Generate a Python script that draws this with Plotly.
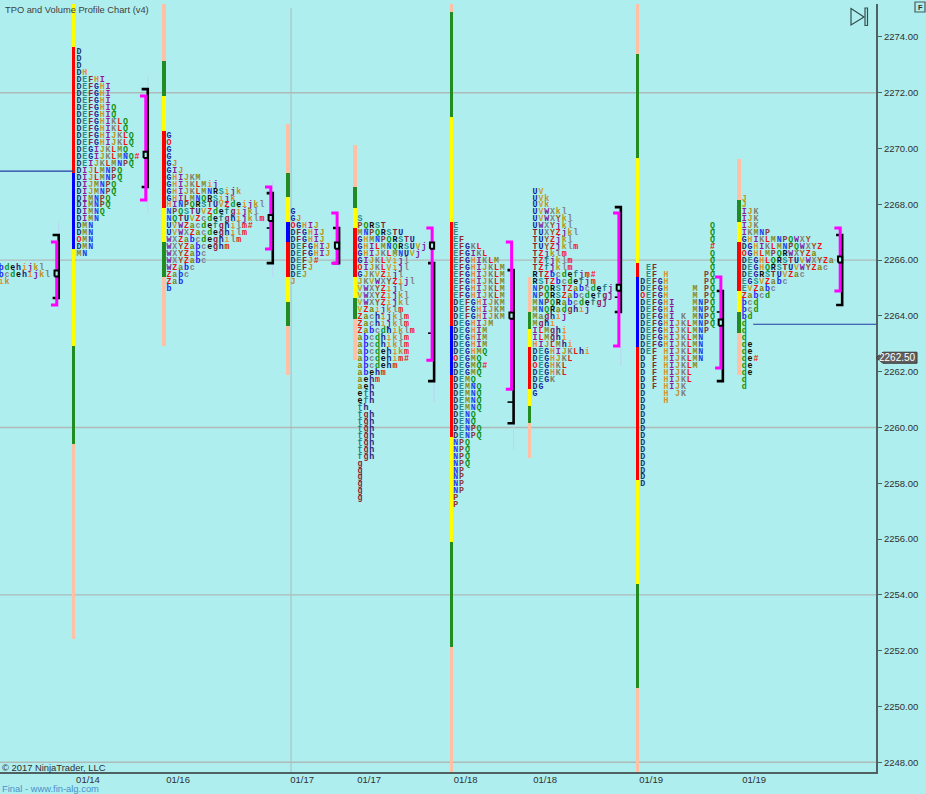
import plotly.graph_objects as go

# ---------- data ----------
TICK = 0.25
profile_names = ["01/13", "01/14", "01/16", "01/17a", "01/17b", "01/18a", "01/18b", "01/19a", "01/19b"]
profile_start_slot = [0.2, 13.62, 29.14, 50.5, 62.07, 78.57, 92.24, 110.8, 128.3]
profile_top_price = [2265.75, 2273.5, 2270.5, 2267.75, 2267.5, 2267.25, 2268.5, 2267.25, 2268.25]

rows_0 = ["bdehijkl", "bcdehijkl", "ik"]
rows_1 = ["D", "D", "D", "DH", "DEFHI", "DEFGHI", "DEFGHI", "DEFGHI", "DEFGHIQ", "DEFGHIQ",
          "DEFGHIKLQ", "DEFGHIKLQ", "DEFGHIJKLQ", "DEFGHIJKLQ", "DEGIJKLMQ", "DEGIJKLMNQ#",
          "DEIJKLMNPQ", "DIJLMNPQ", "DIJLMNPQ", "DIJMNPQ", "DIJMNPQ", "DIMNPQ", "DIMNPQ",
          "DIMNQ", "DIMN", "DMN", "DMN", "OMN", "DMN", "MN"]
rows_2 = ["G", "O", "G", "G", "GJ", "GIJ", "GHIJKM", "GHIJKLMij", "GHIJKLMNRSijk", "GHILMNQRSijk",
          "HINPQRSTUVZdeijkl", "NPQSTUVZdefgijkl", "NQTUVZcdefghijklm", "UVWZacdefghilm#",
          "UVWXZacdeghilm", "WXZabcdeghilm", "WXYZabceghm", "WXYZabc", "WXYZabc", "WZabc",
          "Zabc", "Zab", "b"]
rows_3 = ["G", "GJ", "OGHIJ", "DFGHIJ", "DFGHIJ", "DEFGHIJ", "DEFGHIJ", "DEFJ#", "DEFJ", "DEJ", "J"]
rows_4 = ["S", "PQRST", "MNPQRSTU", "GHMNPQRSTU", "GHILMNQRSUVj", "GHIJKLMNUVj", "GIJKLVijl",
          "OIJKLVijl", "GJKVZijl", "JKVWXYZijl", "VWXYZijl", "VWXYZijkl", "VWXYZijkl", "VZaijklm",
          "Zachijklm", "Zachijklm", "Zabcdhiklm", "abcdhiklm", "abcdhiklm", "abcdehikm",
          "abcdehim#", "abcdehm", "abehm", "aehm", "aeh", "efh", "efh", "fh", "fgh", "fgh", "fgh",
          "fgh", "fgh", "fgh", "fgh", "g", "g", "g", "g", "g", "g"]
rows_5 = ["E", "E", "EF", "EFGKL", "EFGIKL", "EFGHIKLM", "EFGHIJKLM", "EFGHIJKLM", "EFGHIJKLM",
          "EFGHIJKLM", "EFGHIJKLM", "DEFGHIJKM", "DEFGHIJKM", "DEFGHIJKM", "DEGHIJM", "DEGHIM",
          "DEGHIM", "DEGHIM", "DEGHMQ", "OEGMQ", "DEGMQ#", "DEGMQ", "DEMQ", "DEMNQ", "DEMNQ",
          "DEMNQ", "DEMNQ", "DENQ", "DENQ", "DENPQ", "DENPQ", "NPQ", "NPQ", "NPQ", "NPQ", "NP",
          "NP", "NP", "NP", "P", "P"]
rows_6 = ["UV", "UVk", "UVk", "UVWXkl", "UVWXYkl", "UWXYjkl", "TUXYZjkl", "TUYZjkl", "TUYZjklm",
          "TZjklm", "TZfjklm", "TZfjklm", "RTZbcdefjm#", "RSTZbcdefjm", "NPQRSTZabcdefj",
          "NPQRSZabcdefgj", "MNPQRabcdefgj", "MNQRadghij", "Maghij", "Mghi", "ILMghi", "ILMghi",
          "HIJLMhi", "DEGHIJKLhi", "DEGHJKL", "OEGHKL", "DEGHKL", "DEGK", "DG", "G"]
rows_7 = ["            Q", "            Q", "            Q", "            #", "            Q",
          "            Q", " EF         Q", " EF H      PQ", "DEFGH      PQ", "DEFGH    M PQ",
          "OEFGH    M PQ", "DEFGHI   MNPQ", "DEFGHI   MNPQ", "DEFGHI K MNPQ", "DEFGHIJKLMNPQ",
          "DEFGHIJKLMNP", "DEFGHIJKLMN", "DEFGHIJKLMN", "DEF HIJKLMN", "D F HIJKLMN",
          "D F HIJKLM", "D F HIJKL", "D F HIJKL", "D F HIJK", "D   H JK", "D   H", "D", "D", "D",
          "D", "D", "D", "D", "D", "D", "D", "D", "D"]
rows_8 = ["J", "J", "IJK", "IJK", "IJK", "IKMNP", "GHIKLMNPQWXY", "DGHIKLMNPQWXYZ", "OGHLMPQRWXYZa",
          "DEGHLQRSTUVWXYZa", "DEGHQRSTUVWYZac", "DEGRSTUVZac", "EGSVZabc", "EVZabc", "Zabcd",
          "bcd", "bcd", "bd", "d", "d", "d", "de", "de", "de#", "de", "de", "d", "d"]
profile_rows = [rows_0, rows_1, rows_2, rows_3, rows_4, rows_5, rows_6, rows_7, rows_8]

# coloured range columns
range_slot = [12.67, 28.24, 49.66, 61.2, 77.81, 91.26, 109.88, 127.41]
range_edges = [
    [2275.25, 2273.64, 2269.12, 2266.40, 2262.92, 2259.40, 2252.41],
    [2275.25, 2273.14, 2271.88, 2270.63, 2267.87, 2266.65, 2265.39, 2262.92],
    [2270.88, 2269.12, 2268.26, 2267.36, 2266.65, 2265.39, 2264.49, 2263.63, 2261.88],
    [2270.13, 2268.62, 2267.87, 2267.15, 2265.39, 2264.64, 2263.89, 2262.41],
    [2275.25, 2274.90, 2271.13, 2267.36, 2263.63, 2261.88, 2259.65, 2255.89, 2252.12, 2247.6],
    [2265.39, 2264.14, 2263.53, 2262.88, 2261.37, 2260.76, 2260.15, 2258.90],
    [2275.25, 2273.39, 2269.66, 2265.89, 2265.39, 2262.88, 2258.11, 2254.38, 2250.65, 2247.6],
    [2269.62, 2268.15, 2267.36, 2266.65, 2264.89, 2264.14, 2263.38, 2261.88],
]
range_kinds = [
    ["yellow", "red", "blue", "yellow", "green", "salmon"],
    ["salmon", "green", "yellow", "red", "yellow", "green", "salmon"],
    ["salmon", "green", "yellow", "blue", "red", "yellow", "green", "salmon"],
    ["salmon", "green", "yellow", "red", "yellow", "green", "salmon"],
    ["salmon", "green", "yellow", "red", "blue", "red", "yellow", "green", "salmon"],
    ["salmon", "green", "yellow", "red", "yellow", "green", "salmon"],
    ["salmon", "green", "yellow", "red", "blue", "red", "yellow", "green", "salmon"],
    ["salmon", "green", "yellow", "red", "yellow", "green", "salmon"],
]

# value-area (magenta) and volume (black) brackets
bracket_slot = [10.12, 25.47, 47.02, 58.45, 74.83, 88.53, 107.02, 124.6, 145.17]
black_high = [2266.90, 2272.13, 2268.40, 2267.15, 2265.89, 2265.64, 2267.90, 2264.89, 2266.90]
black_low = [2264.64, 2268.62, 2265.89, 2265.89, 2261.66, 2260.15, 2264.14, 2261.66, 2264.39]
black_inner = [None, None, 2267.15, None, 2263.38, 2260.91, 2264.67, 2264.14, None]
magenta_high = [2266.65, 2271.88, 2268.62, 2267.69, 2267.15, 2266.65, 2267.69, 2265.39, 2267.15]
magenta_low = [2264.39, 2268.15, 2266.40, 2265.89, 2262.41, 2261.37, 2262.92, 2262.13, 2264.89]
poc_price = [2265.52, 2269.77, 2267.51, 2266.52, 2266.52, 2264.01, 2265.01, 2263.76, 2266.02]
wick_high = [2267.35, 2272.6, 2268.85, 2267.15, 2265.89, 2266.1, 2262.9, 2264.89, 2267.15]
wick_low = [2264.2, 2267.7, 2265.4, 2265.65, 2260.9, 2259.2, 2262.2, 2262.0, 2264.3]

# unfilled point-of-control lines
naked_price = [2269.19, 2263.70]
naked_from_slot = [0, 129.83]
naked_to_slot = [12.67, 151]

grid_prices = [2272, 2266, 2260, 2254, 2248]
grid_slot = 50.17
date_slots = [15.17, 30.69, 52.07, 63.62, 80.28, 93.97, 112.24, 130.0]
date_labels = ["01/14", "01/16", "01/17", "01/17", "01/18", "01/18", "01/19", "01/19"]
last_price = 2262.50

# ---------- styles ----------
W, H = 926, 794
L, R, T, B = 0, 50, 4, 22.3
BG = "#AFEEEE"
GRID = "#AEBABA"
AXIS = "#4F6161"
SANS = "Liberation Sans"
LETTER_DROP = 0.04  # letters sit about 1px under their row centre
kind_color = {"yellow": "#FFFF00", "red": "#FF0000", "blue": "#0000FF",
              "green": "#228B22", "salmon": "#FFC0A5"}
letter_color = {
    "D": "#1E3560", "E": "#2E8B8B", "F": "#8B2A2A", "G": "#2020A0", "H": "#E09030", "I": "#8B1A9B",
    "J": "#C09020", "K": "#808070", "L": "#F01010", "M": "#8A8A20", "N": "#2040F0", "O": "#F01010",
    "P": "#8B3A3A", "Q": "#109010", "R": "#101010", "S": "#209090", "T": "#8B2030", "U": "#202090",
    "V": "#C8A020", "W": "#8020A0", "X": "#808080", "Y": "#A05020", "Z": "#F01010", "a": "#808010",
    "b": "#2020F0", "c": "#808090", "d": "#109010", "e": "#101010", "f": "#208080", "g": "#8B2040",
    "h": "#202080", "i": "#E89030", "j": "#8020A0", "k": "#C09020", "l": "#808080", "m": "#F01010",
    "#": "#F01010",
}

fig = go.Figure()

# range columns
bx, bbase, bh, bc = [], [], [], []
for slot, edges, kinds in zip(range_slot, range_edges, range_kinds):
    for hi, lo, k in zip(edges[:-1], edges[1:], kinds):
        bx.append(slot)
        bbase.append(lo)
        bh.append(hi - lo)
        bc.append(kind_color[k])
fig.add_trace(go.Bar(x=bx, y=bh, base=bbase, width=0.64, marker=dict(color=bc, line=dict(width=0)),
                     hoverinfo="skip", showlegend=False))

# wicks
for s, hi, lo in zip(bracket_slot, wick_high, wick_low):
    fig.add_trace(go.Scatter(x=[s, s], y=[lo, hi], mode="lines", line=dict(color="#BCD4F2", width=1),
                             hoverinfo="skip", showlegend=False))

# naked POC lines
for p, a, b in zip(naked_price, naked_from_slot, naked_to_slot):
    fig.add_trace(go.Scatter(x=[a, b], y=[p, p], mode="lines", line=dict(color="#2238A0", width=1.2),
                             hoverinfo="skip", showlegend=False))

# letters
tx, ty, tt, tc = [], [], [], []
for start, top, rows in zip(profile_start_slot, profile_top_price, profile_rows):
    for r, row in enumerate(rows):
        for c, ch in enumerate(row):
            if ch != " ":
                tx.append(start + c)
                ty.append(top - r * TICK - LETTER_DROP)
                tt.append(ch)
                tc.append(letter_color[ch])
fig.add_trace(go.Scatter(x=tx, y=ty, text=tt, mode="text", textposition="middle center",
                         textfont=dict(family="Liberation Mono", size=8.3, color=tc, weight="bold"),
                         hoverinfo="skip", showlegend=False))

# brackets
for i, s in enumerate(bracket_slot):
    hi, lo = black_high[i], black_low[i]
    fig.add_trace(go.Scatter(x=[s - 1.05, s, s, s - 1.05], y=[hi, hi, lo, lo], mode="lines",
                             line=dict(color="#000000", width=2.6), hoverinfo="skip", showlegend=False))
    if black_inner[i] is not None:
        fig.add_trace(go.Scatter(x=[s - 1.05, s], y=[black_inner[i]] * 2, mode="lines",
                                 line=dict(color="#000000", width=1.6), hoverinfo="skip", showlegend=False))
    m = s - 0.34
    mh, ml = magenta_high[i], magenta_low[i]
    fig.add_trace(go.Scatter(x=[m - 1.0, m, m, m - 1.0], y=[mh, mh, ml, ml], mode="lines",
                             line=dict(color="#FF00FF", width=3), hoverinfo="skip", showlegend=False))
    p = poc_price[i]
    fig.add_trace(go.Scatter(x=[s - 0.72, s, s, s - 0.72, s - 0.72], y=[p - 0.11, p - 0.11, p + 0.11, p + 0.11, p - 0.11],
                             mode="lines", fill="toself", fillcolor=BG,
                             line=dict(color="#000000", width=2), hoverinfo="skip", showlegend=False))

plot_w = W - L - R
plot_h = H - T - B


def px(x):
    return x / plot_w


def py(y):
    return (H - B - y) / plot_h


shapes = []
for g in grid_prices:
    shapes.append(dict(type="line", xref="paper", yref="y", x0=0, x1=1, y0=g, y1=g, layer="below",
                       line=dict(color=GRID, width=1.4)))
shapes.append(dict(type="line", xref="x", yref="paper", x0=grid_slot, x1=grid_slot, y0=0, y1=0.995,
                   layer="below", line=dict(color=GRID, width=1)))
# last price tag
shapes.append(dict(type="path", xref="paper", yref="y", xsizemode="pixel", ysizemode="pixel",
                   xanchor=1, yanchor=last_price,
                   path="M 0 0 L 7 -5.5 L 41 -5.5 L 41 5.5 L 7 5.5 Z",
                   fillcolor="#5F5F5F", line=dict(color="#3A3A3A", width=1)))
# play icon
shapes.append(dict(type="path", xref="paper", yref="paper",
                   path=f"M {px(851)} {py(8.5)} L {px(864)} {py(17)} L {px(851)} {py(25)} Z",
                   line=dict(color="#35504F", width=1.2)))
shapes.append(dict(type="rect", xref="paper", yref="paper", x0=px(865), x1=px(867.5), y0=py(8), y1=py(25.5),
                   line=dict(color="#35504F", width=1.2)))
# F button
shapes.append(dict(type="rect", xref="paper", yref="paper", x0=px(915), x1=px(925), y0=py(2), y1=py(12),
                   line=dict(color="#4A5A5A", width=1.2)))


def note(text, x, y, size, color="#333333", anchor="left", family=SANS, bold=False):
    return dict(text=f"<b>{text}</b>" if bold else text, xref="paper", yref="paper", x=px(x), y=py(y),
                xanchor=anchor, yanchor="middle", showarrow=False,
                font=dict(family=family, size=size, color=color))


annotations = [
    note("TPO and Volume Profile Chart (v4)", 3, 10, 9.3, "#404040"),
    note("© 2017 NinjaTrader, LLC", 0, 767, 9.4, "#303030"),
    note("Final - www.fin-alg.com", 0, 788, 9.4, "#4A90CC"),
    note("F", 920, 7, 7.5, "#303030", anchor="center", bold=True),
    dict(text=f"{last_price:.2f}", xref="paper", yref="y", x=px(897.5), y=last_price, xanchor="center",
         yanchor="middle", showarrow=False, font=dict(family=SANS, size=10, color="#FFFFFF")),
]

fig.update_layout(
    width=W, height=H, autosize=False, margin=dict(l=L, r=R, t=T, b=B, pad=0),
    paper_bgcolor=BG, plot_bgcolor=BG, showlegend=False, barmode="overlay", bargap=0,
    shapes=shapes, annotations=annotations,
    xaxis=dict(range=[0, 151], tickmode="array", tickvals=date_slots, ticktext=date_labels, ticks="",
               showgrid=False, zeroline=False, showline=True, linecolor=AXIS, linewidth=2,
               tickfont=dict(family=SANS, size=9.5, color="#303030"), ticklabelstandoff=-2),
    yaxis=dict(range=[2247.65, 2275.18], side="right", tickmode="linear", tick0=2248, dtick=2, tickformat=".2f",
               ticks="outside", ticklen=4, tickwidth=1, tickcolor=AXIS, showgrid=False, zeroline=False,
               showline=True, linecolor=AXIS, linewidth=2,
               tickfont=dict(family=SANS, size=9.5, color="#303030")),
)

fig.write_html("out.html", config=dict(displayModeBar=False), post_script="document.body.style.margin='0';")
